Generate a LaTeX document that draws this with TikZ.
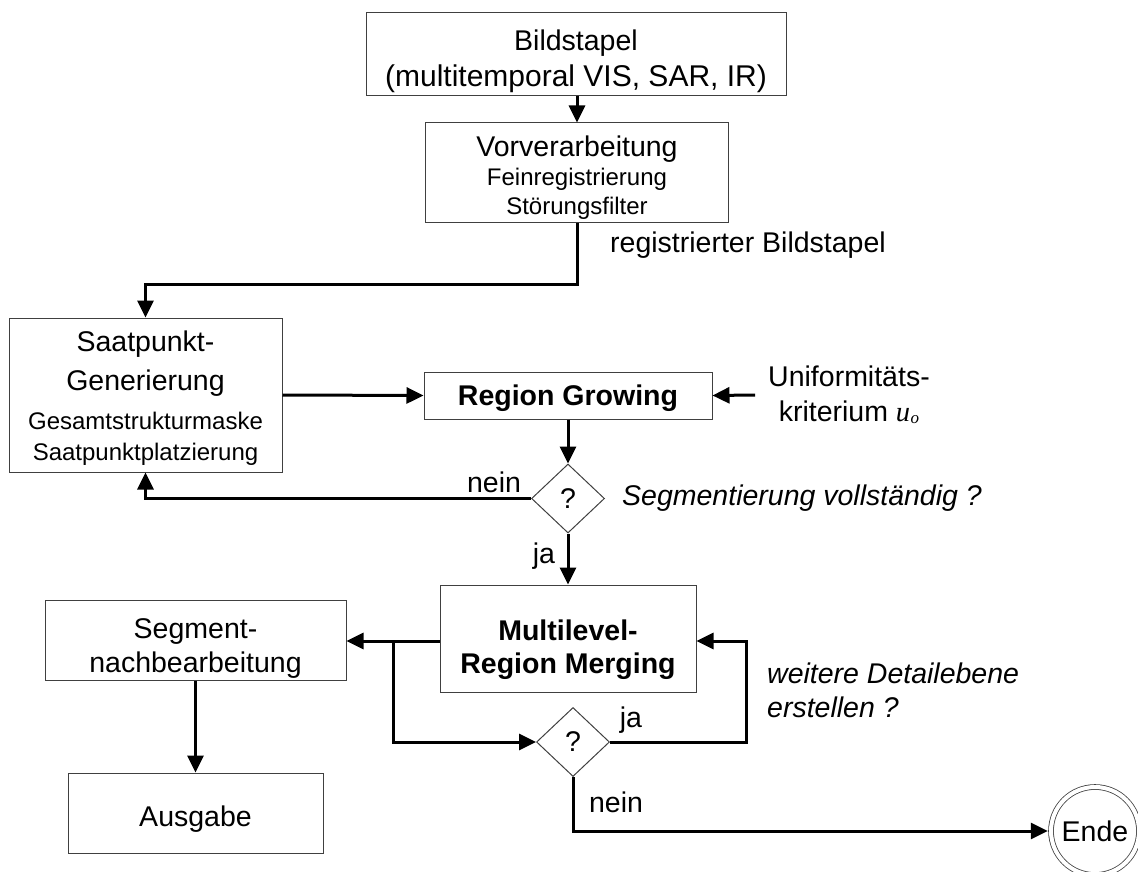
\documentclass[tikz,border=0pt]{standalone}
\usepackage{fontspec}
\setmainfont{Liberation Sans}
\newfontfamily\libserif{Liberation Serif}
\usetikzlibrary{arrows.meta,shapes.geometric}
\newcommand\mainsz{\fontsize{28.5}{34}\selectfont}
\newcommand\subsz{\fontsize{24}{29}\selectfont}
\newcommand\tstrut[1]{\rule{0pt}{#1}}
\newcommand\uosym{{\libserif\itshape u\kern0.5pt\raisebox{-1.5pt}{\fontsize{17}{17}\selectfont o}}}
\begin{document}
\begin{tikzpicture}[x=1pt,y=-1pt,
  box/.style={draw=black!75, line width=1pt, rectangle, inner sep=0pt, align=center, font=\mainsz},
  dia/.style={draw=black!75, line width=1pt, diamond, inner sep=0pt, aspect=1.06, minimum width=73pt, minimum height=69pt, font=\mainsz},
  conn/.style={line width=3pt},
  arr/.style={conn, -{Triangle[length=17pt,width=16pt]}},
  lab/.style={font=\mainsz, inner sep=0pt},
]
\useasboundingbox (0,0) rectangle (1138,872);

% boxes
\node[box, minimum width=420pt, minimum height=83pt] (bild) at (576,54.5)
  {\tstrut{34pt}Bildstapel\\[2pt]\fontsize{30}{34}\selectfont (multitemporal VIS, SAR, IR)};
\node[box, minimum width=303pt, minimum height=99pt] (vor) at (577,172.5)
  {\tstrut{30.8pt}Vorverarbeitung\\[-5.4pt]\subsz Feinregistrierung\\[-5pt]\subsz Störungsfilter};
\node[box, minimum width=273pt, minimum height=154pt] (saat) at (145.5,395)
  {\tstrut{26.8pt}Saatpunkt-\\[5pt]Generierung\\[4.6pt]\subsz Gesamtstrukturmaske\\[-3pt]\subsz Saatpunktplatzierung};
\node[box, font=\bfseries\mainsz, minimum width=288pt, minimum height=47pt] (rg) at (568,395.5)
  {\tstrut{26.2pt}Region Growing};
\node[lab, align=center] (unif) at (849,395) {Uniformitäts-\\[1pt]kriterium \uosym};
\node[dia] (d1) at (568,498.5) {?};
\node[box, font=\bfseries\mainsz, minimum width=256pt, minimum height=107pt] (ml) at (568,638.5)
  {\tstrut{43pt}Multilevel-\\[-1pt]Region Merging};
\node[box, minimum width=301pt, minimum height=80pt] (seg) at (195.5,640)
  {\tstrut{37pt}Segment-\\[0pt]nachbearbeitung};
\node[box, minimum width=255pt, minimum height=80pt] (aus) at (195.5,813)
  {\tstrut{33pt}Ausgabe};
\node[dia] (d2) at (573,742) {?};
\node[circle, draw=black!75, line width=0.8pt, double, double distance=4pt, minimum size=88pt, inner sep=0pt, font=\mainsz] (ende) at (1095,831) {Ende};

% labels
\node[lab, anchor=west] (lreg) at (610,245) {registrierter Bildstapel};
\node[lab] (lnein1) at (494,482) {nein};
\node[lab, font=\itshape\mainsz, anchor=west] (lseg) at (622,498) {Segmentierung vollständig ?};
\node[lab] (lja1) at (544,556) {ja};
\node[lab] (lja2) at (631,720) {ja};
\node[lab, font=\itshape\mainsz, anchor=west, align=left] (lweit) at (767,690) {weitere Detailebene\\erstellen ?};
\node[lab] (lnein2) at (616,802) {nein};

% connectors
\coordinate (k1) at (145.5,284);
\coordinate (br) at (393,641);
\coordinate (k2) at (746,742);

\draw[arr] (bild.south -| vor.north) -- (vor.north);
\draw[arr] (vor.south) |- (k1) -- (saat.north);
\draw[arr] (saat.east) -- (rg.west);
\draw[arr] ([xshift=-13pt]unif.west) -- (rg.east);
\draw[arr] (rg.south) -- (d1.north);
\draw[arr] (d1.west) -| (saat.south);
\draw[arr] (d1.south) -- (ml.north);
\draw[arr] (ml.west |- br) -- (seg.east |- br);
\draw[arr] (br) |- (d2.west);
\draw[arr] (d2.east) -- (k2) |- (ml.east |- br);
\draw[arr, shorten >=2.8pt] (d2.south) |- (ende.west);
\draw[arr] (seg.south) -- (aus.north);
\end{tikzpicture}
\end{document}
